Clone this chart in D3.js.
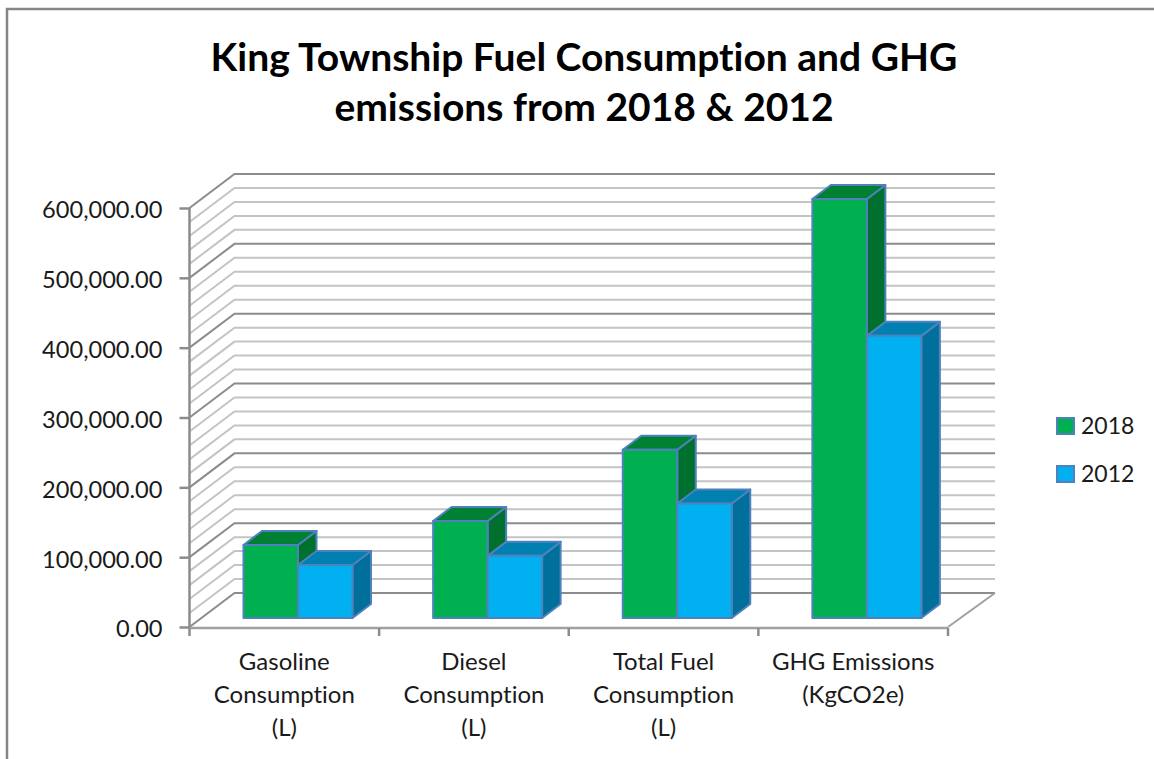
<!DOCTYPE html>
<html><head><meta charset="utf-8">
<script src="https://d3js.org/d3.v7.min.js"></script>
<style>html,body{margin:0;padding:0;background:#fff}svg{display:block}text{font-family:Lato,"Noto Sans",sans-serif;fill:#1a1a1a;font-variant-ligatures:none}</style>
</head><body><div id="c"></div>
<script>
const titleLines = ["King Township Fuel Consumption and GHG", "emissions from 2018 & 2012"];
const categories = ["Gasoline Consumption (L)", "Diesel Consumption (L)", "Total Fuel Consumption (L)", "GHG Emissions (KgCO2e)"];
const categoryLines = [["Gasoline","Consumption","(L)"],["Diesel","Consumption","(L)"],["Total Fuel","Consumption","(L)"],["GHG Emissions","(KgCO2e)"]];
const seriesNames = ["2018", "2012"];
const values2018 = [104600, 139000, 241000, 600000];
const values2012 = [76000, 89000, 164000, 404000];
const majorTicks = [0, 100000, 200000, 300000, 400000, 500000, 600000];
const minorTicks = d3.range(20000, 600000, 20000).filter(v => v % 100000 !== 0);

const W = 1154, H = 759;
const svg = d3.select("#c").append("svg").attr("width", W).attr("height", H);
const wall = {dx: 45, dy: -34};
const barFront = {dx: 13, dy: -9};
const barDepth = {dx: 18.5, dy: -14};
const y = d3.scaleLinear().domain([0, 600000]).range([627, 208]);
const x0 = d3.scaleBand().domain(categories).range([189.5, 948]);
const x1 = d3.scaleBand().domain(seriesNames).range([41, 150]);
const colors = {
  "2018": {front: "#00b050", top: "#008033", side: "#00702e"},
  "2012": {front: "#00b0f0", top: "#0080b0", side: "#006f9c"}
};
const edge = "#4f81bd";

// frame
svg.append("path").attr("d", `M7,${H}V9H${W}`).attr("fill","none").attr("stroke","#868686").attr("stroke-width",2.5);

// title
svg.append("g").selectAll("text").data(titleLines).join("text")
  .attr("x", 584).attr("y", (d,i) => 71 + i*50).attr("text-anchor","middle")
  .style("font-size","39px").style("font-weight",700).style("fill","#000").text(d => d);

// grid
const gridPath = v => `M${x0.range()[0]},${y(v)}L${x0.range()[0]+wall.dx},${y(v)+wall.dy}H995`;
const gridG = svg.append("g").attr("fill","none");
gridG.selectAll(".mn").data(minorTicks).join("path").attr("class","mn").attr("d",gridPath).attr("stroke","#c4c4c4").attr("stroke-width",2);
gridG.selectAll(".mj").data(majorTicks).join("path").attr("class","mj").attr("d",gridPath).attr("stroke","#8c8c8c").attr("stroke-width",2);
// floor
svg.append("path").attr("d",`M995,${y(0)+wall.dy}L948,${y(0)}`).attr("fill","none").attr("stroke","#a0a0a0").attr("stroke-width",2);

// y axis
const yAxis = d3.axisLeft(y).tickValues(majorTicks).tickSize(10).tickPadding(17)
  .tickFormat(d3.format(",.2f"));
const ya = svg.append("g").attr("transform","translate(189.5,0)").call(yAxis);
ya.selectAll("text").style("font-size","23.6px").attr("dy","0.42em");
ya.selectAll("line,path").attr("stroke","#8c8c8c").attr("stroke-width",2.5);
ya.select(".domain").attr("d",`M0,${y(600000)}V${y(0)+2}`);

// x axis
const xa = svg.append("g").attr("transform",`translate(0,${y(0)+1})`);
xa.append("line").attr("x1",x0.range()[0]).attr("x2",x0.range()[1]).attr("stroke","#a0a0a0").attr("stroke-width",2.5);
const xTicks = categories.map(c => x0(c)).concat(x0.range()[1]);
xa.selectAll(".t").data(xTicks).join("line").attr("class","t").attr("x1",d=>d).attr("x2",d=>d).attr("y1",0).attr("y2",8).attr("stroke","#8c8c8c").attr("stroke-width",2.5);
categories.forEach((c,i) => {
  svg.append("g").selectAll("text").data(categoryLines[i]).join("text")
    .attr("x", x0(c)+x0.bandwidth()/2).attr("y",(d,j)=>670+j*33).attr("text-anchor","middle")
    .style("font-size","24px").text(d=>d);
});

// bars (back-to-front, left-to-right)
const rows = categories.flatMap((c,i) => seriesNames.map((s,k) => ({c, s, v:[values2018,values2012][k][i]})));
const g = svg.append("g").attr("stroke",edge).attr("stroke-width",2).attr("stroke-linejoin","round");
rows.forEach(d => {
  const xl = x0(d.c) + x1(d.s) + barFront.dx, xr = xl + x1.bandwidth();
  const yt = y(d.v) + barFront.dy, yb = y(0) + barFront.dy;
  const col = colors[d.s];
  const dd = barDepth;
  g.append("path").attr("fill",col.side).attr("d",`M${xr},${yt}L${xr+dd.dx},${yt+dd.dy}V${yb+dd.dy}L${xr},${yb}Z`);
  g.append("path").attr("fill",col.top).attr("d",`M${xl},${yt}L${xl+dd.dx},${yt+dd.dy}H${xr+dd.dx}L${xr},${yt}Z`);
  g.append("rect").attr("fill",col.front).attr("x",xl).attr("y",yt).attr("width",xr-xl).attr("height",yb-yt);
});

// legend
const lg = svg.append("g").selectAll("g").data(seriesNames).join("g").attr("transform",(d,i)=>`translate(1057,${418+i*48})`);
lg.append("rect").attr("width",17).attr("height",16).attr("fill",d=>colors[d].front).attr("stroke",edge).attr("stroke-width",2);
lg.append("text").attr("x",24).attr("y",16).style("font-size","23px").text(d=>d);
</script></body></html>
